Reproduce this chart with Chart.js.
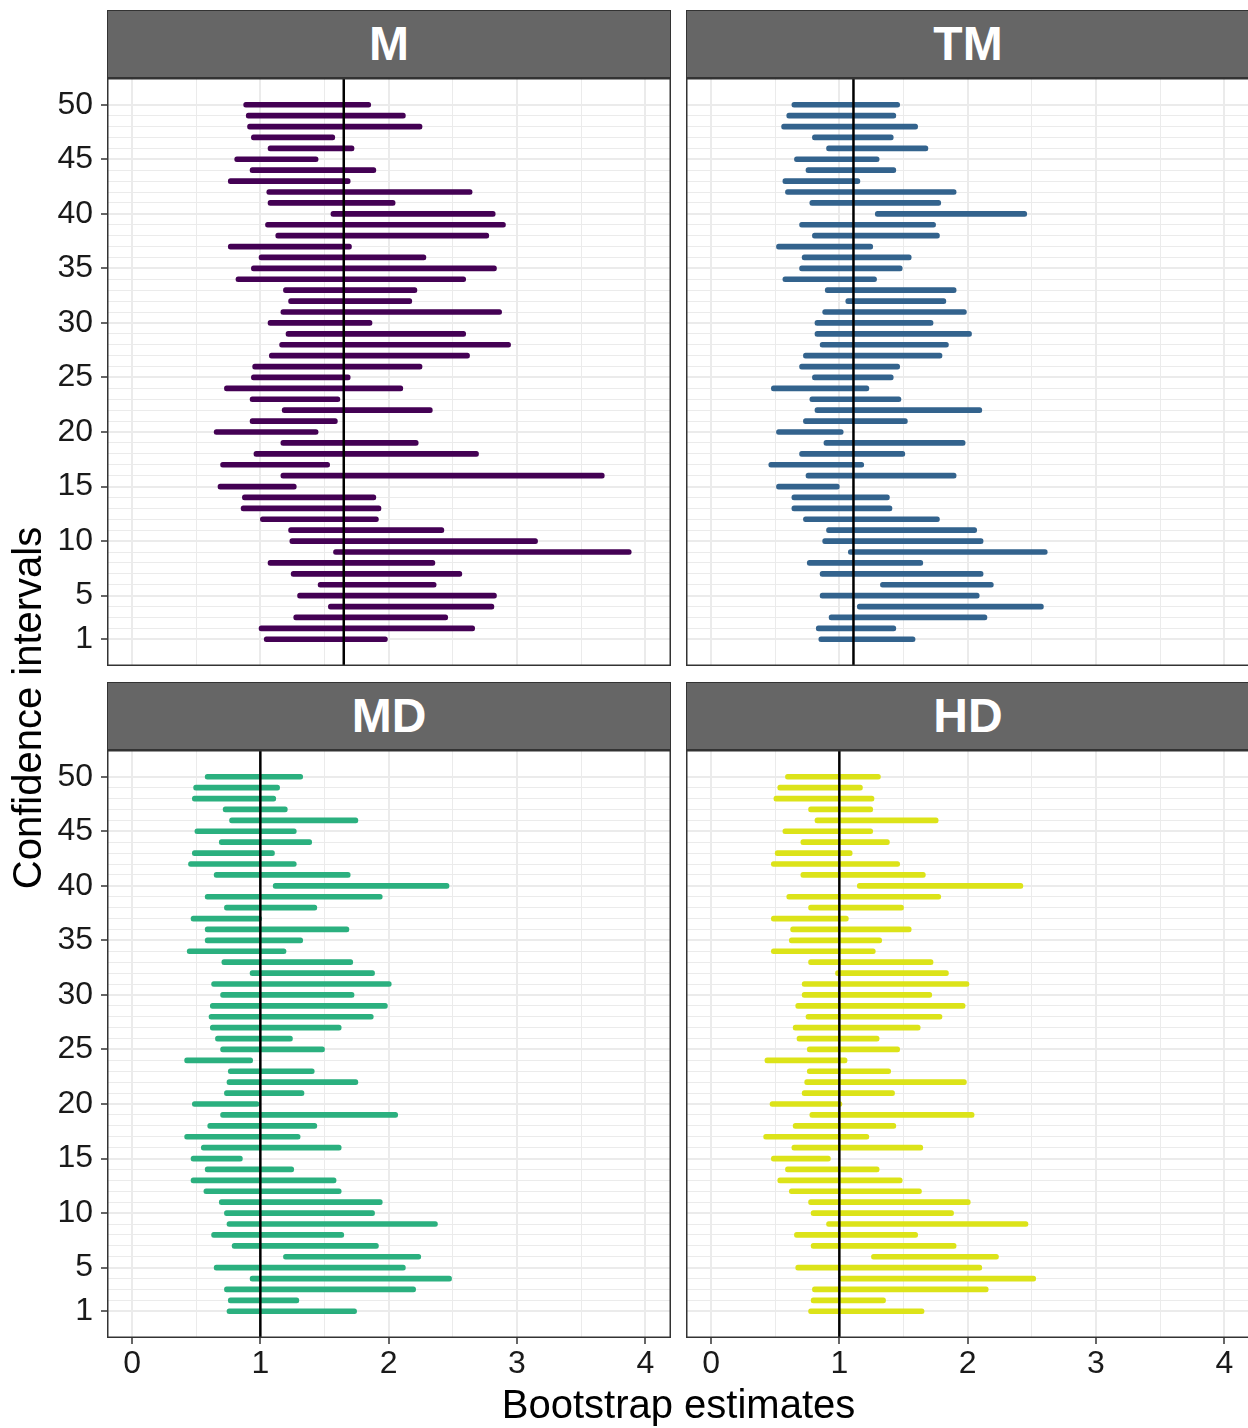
<!DOCTYPE html>
<html>
<head>
<meta charset="utf-8">
<script src="https://cdn.jsdelivr.net/npm/chart.js@4.4.1/dist/chart.umd.min.js"></script>
<style>
  html, body { margin: 0; padding: 0; background: #fff; }
  #wrap { position: relative; width: 1248px; height: 1428px; overflow: hidden; font-family: "Liberation Sans", Arial, sans-serif; }
  canvas { position: absolute; }
  .strip {
    position: absolute; height: 68px; line-height: 66px; box-sizing: border-box;
    background: #666666; border: 1.5px solid #333333; color: #fff;
    font-weight: bold; font-size: 48px; text-align: center;
  }
  #ytitle {
    position: absolute; left: -273px; top: 688px; width: 600px; height: 40px; line-height: 40px;
    text-align: center; font-size: 40px; color: #000; transform: rotate(-90deg);
  }
  #xtitle {
    position: absolute; left: 107px; top: 1384px; width: 1143px; height: 40px; line-height: 40px;
    text-align: center; font-size: 40px; color: #000;
  }
</style>
</head>
<body>
<div id="wrap">
  <canvas id="chartM" width="671" height="588" style="left:0;top:78px"></canvas>
  <canvas id="chartTM" width="564" height="588" style="left:686px;top:78px"></canvas>
  <canvas id="chartMD" width="671" height="648" style="left:0;top:750px"></canvas>
  <canvas id="chartHD" width="564" height="648" style="left:686px;top:750px"></canvas>
  <div class="strip" style="left:107px;top:10px;width:564px">M</div>
  <div class="strip" style="left:686px;top:10px;width:564px">TM</div>
  <div class="strip" style="left:107px;top:682px;width:564px">MD</div>
  <div class="strip" style="left:686px;top:682px;width:564px">HD</div>
  <div id="ytitle">Confidence intervals</div>
  <div id="xtitle">Bootstrap estimates</div>
</div>
<script>
// interval index 1..50
const intervals = [1, 2, 3, 4, 5, 6, 7, 8, 9, 10, 11, 12, 13, 14, 15, 16, 17, 18, 19, 20,
  21, 22, 23, 24, 25, 26, 27, 28, 29, 30, 31, 32, 33, 34, 35, 36, 37, 38, 39, 40,
  41, 42, 43, 44, 45, 46, 47, 48, 49, 50];
const yTickLabels = [1, 5, 10, 15, 20, 25, 30, 35, 40, 45, 50];
const xGrid = [0, 0.5, 1, 1.5, 2, 2.5, 3, 3.5, 4];
const xTickLabels = [0, 1, 2, 3, 4];

// M
const mLow = [1.03, 0.99, 1.26, 1.53, 1.29, 1.45, 1.24, 1.06, 1.57, 1.23, 1.22, 1.00, 0.85, 0.86, 0.67, 1.16, 0.69, 0.95, 1.16, 0.64,
  0.92, 1.17, 0.92, 0.72, 0.93, 0.94, 1.07, 1.15, 1.20, 1.06, 1.16, 1.22, 1.18, 0.81, 0.93, 0.99, 0.75, 1.12, 1.04, 1.55,
  1.06, 1.05, 0.75, 0.92, 0.80, 1.06, 0.93, 0.90, 0.89, 0.87];
const mHigh = [1.99, 2.67, 2.46, 2.82, 2.84, 2.37, 2.57, 2.36, 3.89, 3.16, 2.43, 1.92, 1.94, 1.90, 1.28, 3.68, 1.54, 2.70, 2.23, 1.45,
  1.60, 2.34, 1.62, 2.11, 1.70, 2.26, 2.63, 2.95, 2.60, 1.87, 2.88, 2.18, 2.22, 2.60, 2.84, 2.29, 1.71, 2.78, 2.91, 2.83,
  2.05, 2.65, 1.70, 1.90, 1.45, 1.73, 1.58, 2.26, 2.13, 1.86];
// TM
const tmLow = [0.84, 0.82, 0.92, 1.14, 0.85, 1.32, 0.85, 0.75, 1.07, 0.87, 0.90, 0.72, 0.63, 0.63, 0.51, 0.74, 0.45, 0.69, 0.88, 0.51,
  0.72, 0.81, 0.77, 0.47, 0.79, 0.69, 0.72, 0.85, 0.81, 0.81, 0.87, 1.05, 0.89, 0.56, 0.69, 0.71, 0.51, 0.79, 0.69, 1.28,
  0.77, 0.58, 0.56, 0.74, 0.65, 0.90, 0.79, 0.55, 0.59, 0.63];
const tmHigh = [1.59, 1.44, 2.15, 2.59, 2.09, 2.20, 2.12, 1.65, 2.62, 2.12, 2.07, 1.78, 1.41, 1.39, 1.00, 1.91, 1.19, 1.51, 1.98, 1.03,
  1.53, 2.11, 1.48, 1.23, 1.42, 1.47, 1.80, 1.85, 2.03, 1.73, 1.99, 1.83, 1.91, 1.29, 1.49, 1.56, 1.26, 1.78, 1.75, 2.46,
  1.79, 1.91, 1.16, 1.44, 1.31, 1.69, 1.42, 1.61, 1.44, 1.47];
// MD
const mdLow = [0.74, 0.75, 0.72, 0.92, 0.64, 1.18, 0.78, 0.62, 0.74, 0.72, 0.68, 0.56, 0.46, 0.57, 0.46, 0.54, 0.41, 0.59, 0.69, 0.47,
  0.72, 0.74, 0.75, 0.41, 0.69, 0.65, 0.61, 0.60, 0.61, 0.69, 0.62, 0.92, 0.70, 0.43, 0.57, 0.57, 0.46, 0.72, 0.57, 1.10,
  0.64, 0.44, 0.47, 0.68, 0.49, 0.76, 0.71, 0.47, 0.48, 0.57];
const mdHigh = [1.75, 1.30, 2.21, 2.49, 2.13, 2.25, 1.92, 1.65, 2.38, 1.89, 1.95, 1.63, 1.59, 1.26, 0.86, 1.63, 1.31, 1.44, 2.07, 0.99,
  1.34, 1.76, 1.42, 0.94, 1.50, 1.25, 1.63, 1.88, 1.99, 1.73, 2.02, 1.89, 1.72, 1.20, 1.33, 1.69, 1.01, 1.44, 1.95, 2.47,
  1.70, 1.28, 1.11, 1.40, 1.28, 1.76, 1.21, 1.12, 1.15, 1.33];
// HD
const hdLow = [0.76, 0.78, 0.79, 1.00, 0.66, 1.25, 0.78, 0.65, 0.90, 0.78, 0.76, 0.61, 0.52, 0.58, 0.47, 0.63, 0.41, 0.64, 0.77, 0.46,
  0.71, 0.73, 0.75, 0.42, 0.75, 0.67, 0.64, 0.74, 0.66, 0.71, 0.71, 0.97, 0.76, 0.47, 0.61, 0.62, 0.47, 0.76, 0.59, 1.14,
  0.70, 0.47, 0.50, 0.70, 0.56, 0.81, 0.76, 0.49, 0.52, 0.58];
const hdHigh = [1.66, 1.36, 2.16, 2.53, 2.11, 2.24, 1.91, 1.61, 2.47, 1.89, 2.02, 1.64, 1.49, 1.31, 0.93, 1.65, 1.23, 1.44, 2.05, 1.02,
  1.43, 1.99, 1.40, 1.06, 1.47, 1.31, 1.63, 1.80, 1.98, 1.72, 2.01, 1.85, 1.73, 1.28, 1.33, 1.56, 1.07, 1.50, 1.79, 2.43,
  1.67, 1.47, 1.10, 1.39, 1.26, 1.77, 1.26, 1.27, 1.18, 1.32];

// reference (true value) line per panel
const refValues = { M: 1.65, TM: 1.11, MD: 1.0, HD: 1.0 };

const Y_MIN = -1.45, Y_MAX = 52.45;
const X_MIN = -0.195, X_MAX = 4.2;

Chart.defaults.font.family = '"Liberation Sans", Arial, sans-serif';

// ggplot-like border around the panel
const panelFrame = {
  id: 'panelFrame',
  afterDraw(chart) {
    const { ctx, chartArea: a } = chart;
    ctx.save();
    ctx.strokeStyle = '#333333';
    ctx.lineWidth = 1.5;
    ctx.strokeRect(a.left + 0.75, a.top + 0.75, a.width - 1.5, a.height - 1.5);
    ctx.restore();
  }
};

const makePanel = (canvasId, low, high, ref, color, showY, showX) => {
  const ctx = document.getElementById(canvasId).getContext('2d');
  return new Chart(ctx, {
    type: 'bar',
    data: {
      datasets: [
        {
          type: 'line',
          data: [{ x: ref, y: Y_MIN }, { x: ref, y: Y_MAX }],
          borderColor: '#000000',
          borderWidth: 2.5,
          pointRadius: 0,
          order: 0
        },
        {
          type: 'bar',
          data: intervals.map((k, i) => ({ y: k, x: [low[i], high[i]] })),
          backgroundColor: color,
          barThickness: 5,
          borderRadius: 2.5,
          borderSkipped: false,
          order: 1
        }
      ]
    },
    options: {
      indexAxis: 'y',
      responsive: false,
      animation: false,
      layout: { padding: 0 },
      plugins: { legend: { display: false }, tooltip: { enabled: false } },
      scales: {
        x: {
          type: 'linear',
          min: X_MIN,
          max: X_MAX,
          offset: false,
          afterBuildTicks: s => { s.ticks = xGrid.map(v => ({ value: v })); },
          afterFit: s => {
            s.height = showX ? 60 : 0;
            s.paddingLeft = 0;
            s.paddingRight = 0;
          },
          border: { display: false },
          grid: {
            offset: false,
            color: '#EBEBEB',
            lineWidth: c => (c.tick && xTickLabels.includes(c.tick.value) ? 2 : 1),
            drawTicks: showX,
            tickLength: 6,
            tickWidth: 1.5,
            tickColor: c => (c.tick && xTickLabels.includes(c.tick.value) ? '#333333' : 'rgba(0,0,0,0)')
          },
          ticks: {
            display: showX,
            autoSkip: false,
            maxRotation: 0,
            padding: 1,
            color: '#1A1A1A',
            font: { size: 32 },
            callback: v => (xTickLabels.includes(v) ? String(v) : '')
          }
        },
        y: {
          type: 'linear',
          min: Y_MIN,
          max: Y_MAX,
          offset: false,
          afterBuildTicks: s => { s.ticks = intervals.map(v => ({ value: v })); },
          afterFit: s => {
            s.width = showY ? 107 : 0;
            s.paddingTop = 0;
            s.paddingBottom = 0;
          },
          border: { display: false },
          grid: {
            offset: false,
            color: '#EBEBEB',
            lineWidth: c => (c.tick && yTickLabels.includes(c.tick.value) ? 2 : 1),
            drawTicks: showY,
            tickLength: 6,
            tickWidth: 1.5,
            tickColor: c => (c.tick && yTickLabels.includes(c.tick.value) ? '#333333' : 'rgba(0,0,0,0)')
          },
          ticks: {
            display: showY,
            autoSkip: false,
            padding: 8,
            color: '#1A1A1A',
            font: { size: 32 },
            callback: v => (yTickLabels.includes(v) ? String(v) : '')
          }
        }
      }
    },
    plugins: [panelFrame]
  });
};

makePanel('chartM', mLow, mHigh, refValues.M, '#440154', true, false);
makePanel('chartTM', tmLow, tmHigh, refValues.TM, '#33638D', false, false);
makePanel('chartMD', mdLow, mdHigh, refValues.MD, '#2BB07F', true, true);
makePanel('chartHD', hdLow, hdHigh, refValues.HD, '#DCE319', false, true);
</script>
</body>
</html>
